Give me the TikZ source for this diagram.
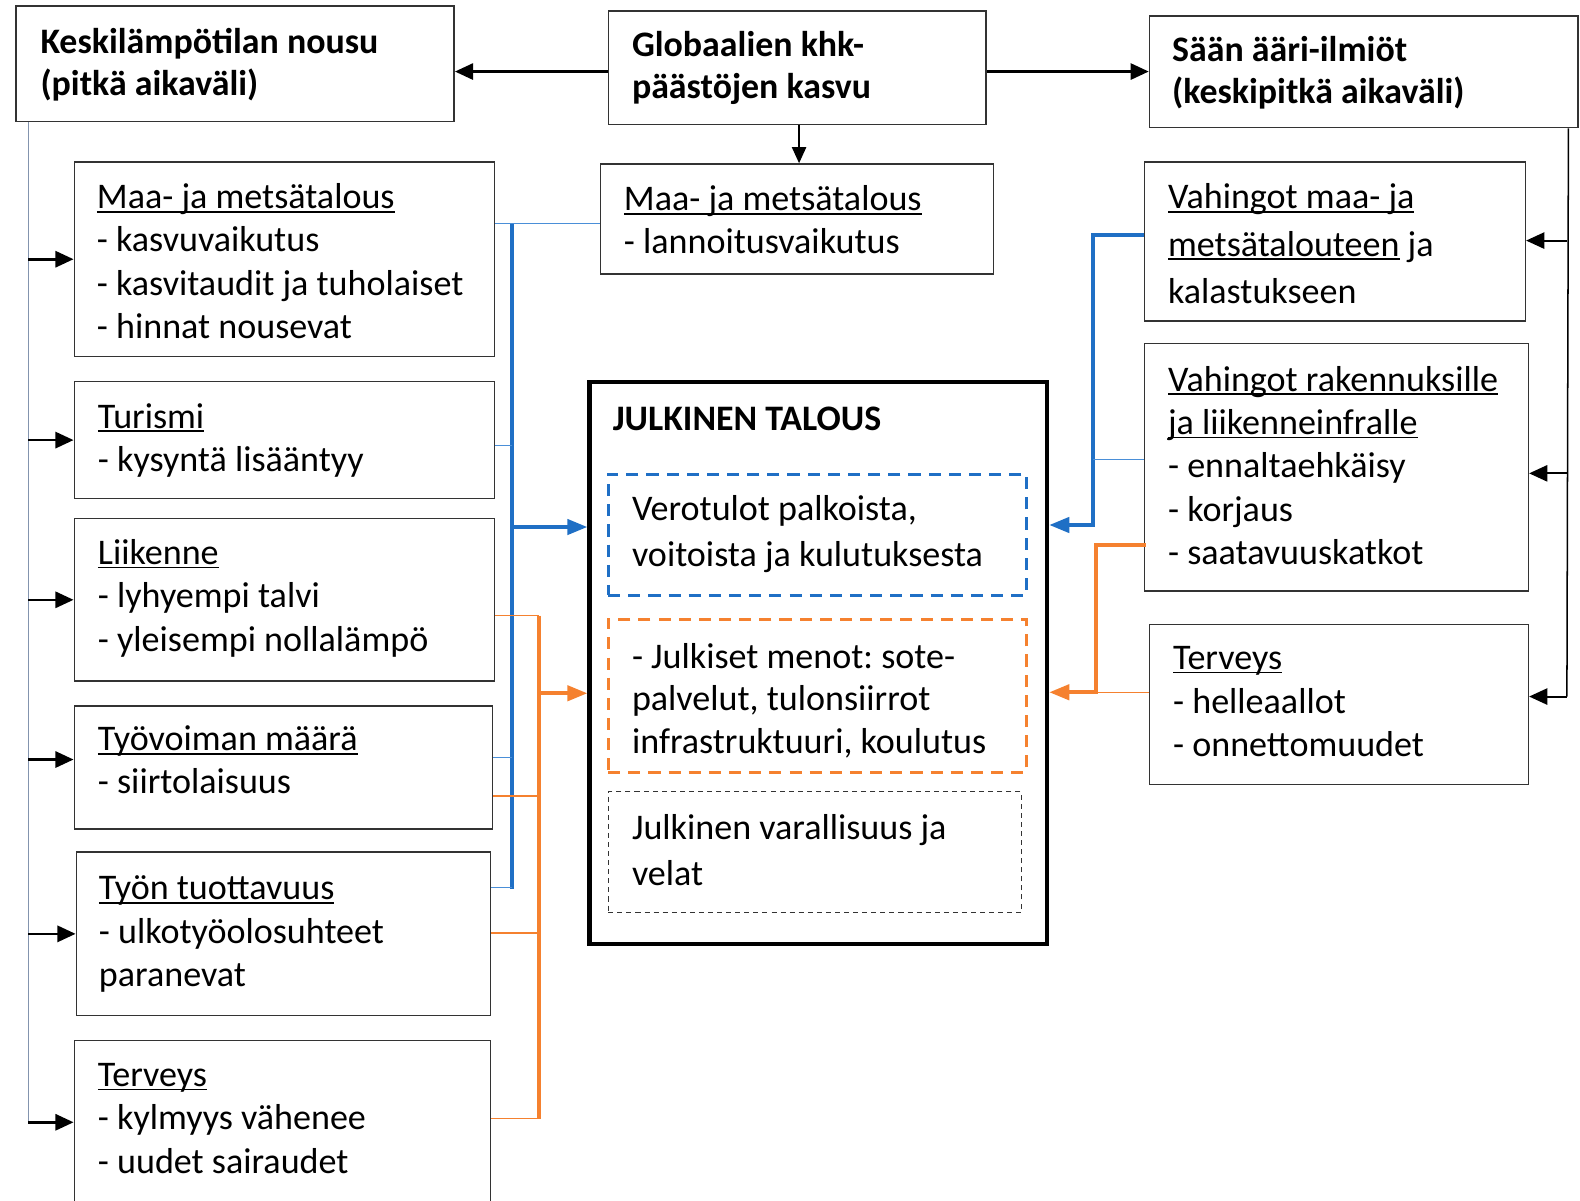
\documentclass[tikz,border=0pt]{standalone}
\usepackage{fontspec}
\setmainfont{Carlito}
\usetikzlibrary{arrows.meta,calc}
\definecolor{cblue}{HTML}{1F6FC5}
\definecolor{cbluel}{HTML}{4A8FD8}
\definecolor{corange}{HTML}{F5812F}
\definecolor{cgray}{HTML}{8394AE}
\definecolor{cedge}{HTML}{333333}
\newcommand\myul[1]{\setbox0\hbox{#1}\rlap{\rule[-4pt]{\wd0}{1.7pt}}\box0\relax}
\frenchspacing
\begin{document}
\begin{tikzpicture}[x=1pt,y=-1pt,
  box/.style={draw=cedge, line width=1.5pt, anchor=north west, inner sep=0pt, fill=none},
  txt/.style={anchor=north west, inner sep=0pt, align=left, font=\fontsize{35.8}{#1}\selectfont, execute at begin node=\strut},
  txt/.default=43,
  btxt/.style={anchor=north west, inner sep=0pt, align=left, font=\fontsize{35.6}{42}\selectfont\bfseries, execute at begin node=\strut},
  arr/.style={line width=2.6pt, -{Triangle[length=18pt,width=16pt]}},
  thickb/.style={draw=cblue, line width=4pt},
  thinb/.style={draw=cbluel, line width=1.4pt},
  thicko/.style={draw=corange, line width=4pt},
  thino/.style={draw=corange, line width=1.4pt},
  carr/.style={-{Triangle[length=20pt,width=15pt]}}
]
\useasboundingbox (0,0) rectangle (1568,1191);

% top boxes
\node[box, minimum width=435pt, minimum height=115pt] (TL) at (15,5) {};
\node[box, minimum width=375pt, minimum height=113pt] (TM) at (603,10) {};
\node[box, minimum width=425pt, minimum height=111pt] (TR) at (1140,15) {};
\node[box, minimum width=390pt, minimum height=109pt] (MM) at (595,162) {};

\node[btxt] (tTL) at (40,28) {Keskilämpötilan nousu\\(pitkä aikaväli)};
\node[btxt] (tTM) at (627,31) {Globaalien khk-\\päästöjen kasvu};
\node[btxt] (tTR) at (1163,36) {Sään ääri-ilmiöt\\(keskipitkä aikaväli)};
\node[txt] (tMM) at (619,184) {\myul{Maa- ja metsätalous}\\- lannoitusvaikutus};

% left boxes
\node[box, minimum width=417pt, minimum height=193pt] (L1) at (73,160) {};
\node[box, minimum width=417pt, minimum height=116pt] (L2) at (73,378) {};
\node[box, minimum width=417pt, minimum height=161pt] (L3) at (73,514) {};
\node[box, minimum width=415pt, minimum height=122pt] (L4) at (73,700) {};
\node[box, minimum width=411pt, minimum height=162pt] (L5) at (75,845) {};
\node[box, minimum width=413pt, minimum height=160pt] (L6) at (73,1032) {};

\node[txt] (tL1) at (96,182) {\myul{Maa- ja metsätalous}\\- kasvuvaikutus\\- kasvitaudit ja tuholaiset\\- hinnat nousevat};
\node[txt] (tL2) at (97,400) {\myul{Turismi}\\- kysyntä lisääntyy};
\node[txt] (tL3) at (97,535) {\myul{Liikenne}\\- lyhyempi talvi\\- yleisempi nollalämpö};
\node[txt] (tL4) at (97,720) {\myul{Työvoiman määrä}\\- siirtolaisuus};
\node[txt] (tL5) at (98,869) {\myul{Työn tuottavuus}\\- ulkotyöolosuhteet\\paranevat};
\node[txt] (tL6) at (97,1055) {\myul{Terveys}\\- kylmyys vähenee\\- uudet sairaudet};

% central box
\node[draw=black, line width=4.2pt, anchor=north west, inner sep=0pt, minimum width=454pt, minimum height=558pt] (J) at (583,377) {};
\node[btxt] (tJ) at (608,398) {JULKINEN TALOUS};
\node[draw=cblue, line width=3pt, dash pattern=on 12pt off 8pt, anchor=north west, inner sep=0pt, minimum width=415pt, minimum height=120pt] (JB) at (602,469) {};
\node[draw=corange, line width=3pt, dash pattern=on 12pt off 8pt, anchor=north west, inner sep=0pt, minimum width=415pt, minimum height=152pt] (JO) at (602,613) {};
\node[draw=cedge, line width=1.3pt, dash pattern=on 5pt off 4pt, anchor=north west, inner sep=0pt, minimum width=410pt, minimum height=120pt] (JK) at (603,785) {};
\node[txt=46] (tJB) at (627,491) {Verotulot palkoista,\\voitoista ja kulutuksesta};
\node[txt=42.5] (tJO) at (627,638) {- Julkiset menot: sote-\\palvelut, tulonsiirrot\\infrastruktuuri, koulutus};
\node[txt=46] (tJK) at (627,808) {Julkinen varallisuus ja\\velat};

% right boxes
\node[box, minimum width=378pt, minimum height=158pt] (R1) at (1135,160) {};
\node[box, minimum width=381pt, minimum height=246pt] (R2) at (1135,340) {};
\node[box, minimum width=376pt, minimum height=159pt] (R3) at (1140,619) {};
\node[txt=47] (tR1) at (1159,182) {\myul{Vahingot maa- ja}\\\myul{metsätalouteen} ja\\kalastukseen};
\node[txt] (tR2) at (1159,363) {\myul{Vahingot rakennuksille}\\\myul{ja liikenneinfralle}\\- ennaltaehkäisy\\- korjaus\\- saatavuuskatkot};
\node[txt=43.5] (tR3) at (1164,641) {\myul{Terveys}\\- helleaallot\\- onnettomuudet};

% helper coordinates
\coordinate (ytop) at (0,71);
\coordinate (gx) at (28,0);
\coordinate (rx) at (1555,0);
\coordinate (bx) at (508,0);
\coordinate (ox) at (535,0);
\coordinate (rbx) at (1085,0);
\coordinate (rox) at (1088,0);

% top arrows
\draw[arr] (TM.west |- ytop) -- (TL.east |- ytop);
\draw[arr] (TM.east |- ytop) -- (TR.west |- ytop);
\draw[line width=2pt, -{Triangle[length=16pt,width=14pt]}] (TM.south -| 793,0) -- (MM.north -| 793,0);

% left gray trunk
\draw[cgray, line width=1.4pt] (TL.south -| gx) -- ($(gx |- L6.west)+(0,1)$);
\draw[arr] (gx |- L1.west) -- (L1.west);
\draw[arr] (gx |- L2.west) -- (L2.west);
\draw[arr] (gx |- L3.west) -- (L3.west);
\draw[arr] ($(gx |- L4.west)+(0,-8)$) -- ($(L4.west)+(0,-8)$);
\draw[arr] (gx |- L5.west) -- (L5.west);
\draw[arr] ($(gx |- L6.west)+(0,1)$) -- ($(L6.west)+(0,1)$);

% right black trunk
\draw[black, line width=1.5pt] ($(TR.south east)+(-10,0)$) -- ($(rx |- R3.east)+(0,-8)$);
\draw[arr, line width=2pt] ($(rx |- R1.east)+(0,-1)$) -- ($(R1.east)+(0,-1)$);
\draw[arr, line width=2pt] ($(rx |- R2.east)+(0,6)$) -- ($(R2.east)+(0,6)$);
\draw[arr, line width=2pt] ($(rx |- R3.east)+(0,-8)$) -- ($(R3.east)+(0,-8)$);

% blue bus (left)
\draw[thinb] ($(L1.north east)+(0,62)$) -- ($(MM.north west)+(0,60)$);
\draw[thickb] ($(bx |- L1.north east)+(0,62)$) -- (bx |- 0,882);
\draw[thinb] ($(L2.north east)+(0,64)$) -- ($(bx |- L2.north east)+(0,64)$);
\draw[thinb] ($(L4.north east)+(0,52)$) -- ($(bx |- L4.north east)+(0,52)$);
\draw[thinb] ($(L5.north east)+(0,36)$) -- ($(bx |- L5.north east)+(0,36)$);
\draw[thickb, carr] (bx |- 0,523) -- (J.west |- 0,523);

% orange bus (left)
\draw[thino] ($(L3.north east)+(0,97)$) -- ($(ox |- L3.north east)+(0,97)$);
\draw[thicko] ($(ox |- L3.north east)+(0,97)$) -- ($(ox |- L6.north east)+(0,78)$);
\draw[thino] ($(L4.north east)+(0,90)$) -- ($(ox |- L4.north east)+(0,90)$);
\draw[thino] ($(L5.north east)+(0,81)$) -- ($(ox |- L5.north east)+(0,81)$);
\draw[thino] ($(L6.north east)+(0,78)$) -- ($(ox |- L6.north east)+(0,78)$);
\draw[thicko, carr] (ox |- 0,688) -- (J.west |- 0,688);

% right blue
\draw[thickb, carr] ($(R1.north west)+(0,73)$) -| (rbx |- 0,521) -- (J.east |- 0,521);
\draw[thinb] ($(R2.north west)+(0,116)$) -- ($(rbx |- R2.north west)+(0,116)$);

% right orange
\draw[thicko, carr] ($(R2.north west)+(2,201)$) -| (rox |- 0,687) -- (J.east |- 0,687);
\draw[thino] ($(R3.north west)+(0,68)$) -- ($(rox |- R3.north west)+(0,68)$);
\end{tikzpicture}
\end{document}
